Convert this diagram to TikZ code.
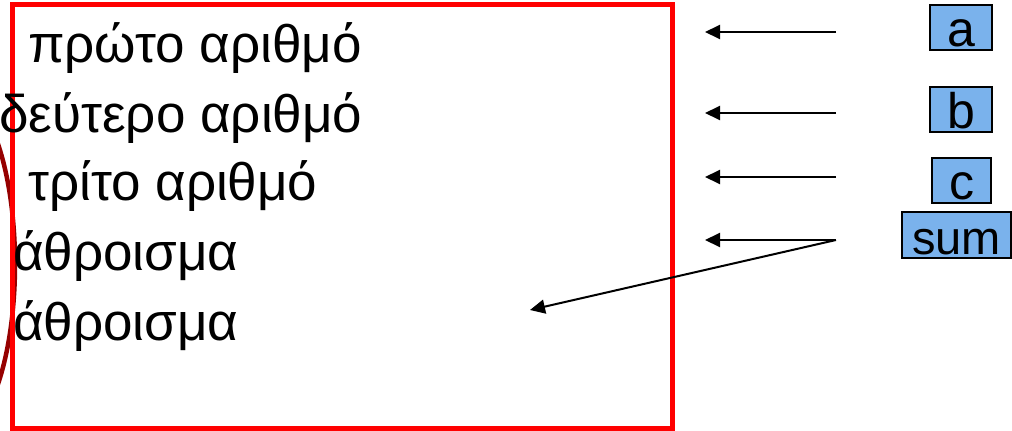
\documentclass[tikz,border=0pt]{standalone}
\usepackage{fontspec}
\setmainfont{Liberation Sans}
\usepackage{xcolor}
\usetikzlibrary{arrows.meta}
\definecolor{boxblue}{RGB}{122,178,236}
\definecolor{ovalred}{RGB}{150,0,0}

\begin{document}
\begin{tikzpicture}[x=1pt, y=-1pt,
		vartext/.style={anchor=base west, inner sep=0pt, font=\fontsize{53}{60}\selectfont},
		varbox/.style={draw=black, line width=1.2pt, fill=boxblue, inner sep=0pt,
			text height=41pt, text depth=4pt, font=\fontsize{50}{58}\selectfont},
		ptr/.style={-{Triangle[length=15pt, width=14pt]}, line width=2pt}]
			\useasboundingbox (0,0) rectangle (1012,431);
			% Oval on the left edge
			\draw[ovalred, line width=4.5pt] (-45,264) ellipse [x radius=60, y radius=172];
			% Memory frame
			\draw[red, line width=5pt] (12.5,4.5) rectangle (672,428.5);
			% Lines of text
			\node[vartext] (first) at (28,62) {πρώτο αριθμό};
			\node[vartext] (second) at (-1,132) {δεύτερο αριθμό};
			\node[vartext] (third) at (28,200) {τρίτο αριθμό};
			\node[vartext] (sumA) at (13,270) {άθροισμα};
			\node[vartext] (sumB) at (13,340) {άθροισμα};
			% Variable boxes
			\node[varbox, minimum width=62pt] (a) at (961,27.5) {a};
			\node[varbox, minimum width=62pt] (b) at (961,109.5) {b};
			\node[varbox, minimum width=59pt] (c) at (961.5,180.5) {c};
			\node[varbox, minimum width=109pt, text height=42pt,
				font=\fontsize{47}{56}\selectfont] (sum) at (956.5,235) {sum};
			% Arrows
			\foreach \name/\y in {a/32, b/113, c/177, sum/240}{
				\coordinate (from\name) at (836,\y);
				\coordinate (to\name) at (705,\y);
				\draw[ptr] (from\name) -- (to\name);
			}
			\coordinate (tosumB) at (530,310);
			\draw[ptr] (fromsum) -- (tosumB);
		\end{tikzpicture}
\end{document}
